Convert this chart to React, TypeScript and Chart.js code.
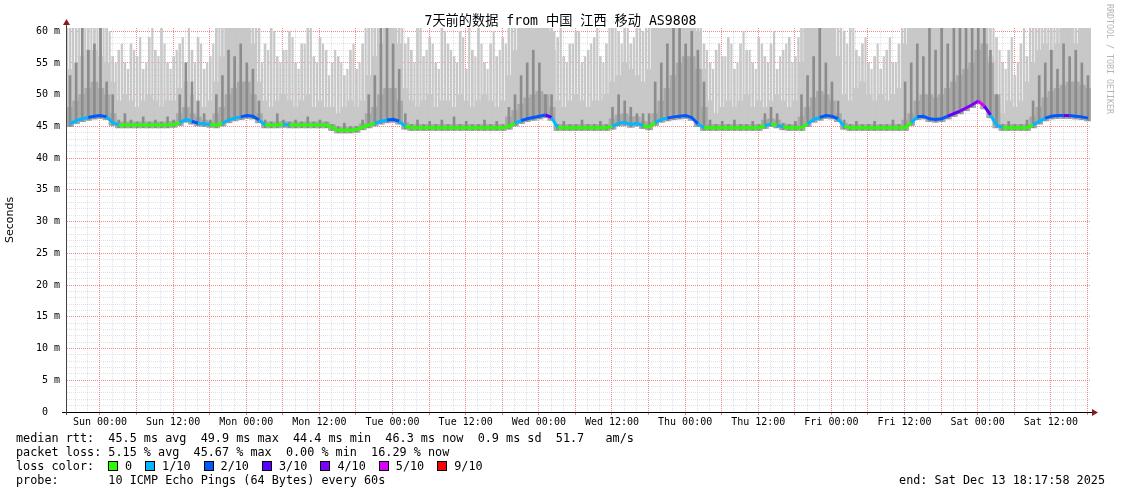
import React, { useEffect, useRef } from 'react';
import { Chart, registerables } from 'chart.js';

Chart.register(...registerables);

const MONO = "'DejaVu Sans Mono', 'Noto Sans CJK SC', monospace";

const TITLE = '7天前的数据 from 中国 江西 移动 AS9808';
const Y_LABEL = 'Seconds';
const WATERMARK = 'RRDTOOL / TOBI OETIKER';

// hours shown, counted from the left edge of the graph
const RANGE_HOURS = 168;
// position (hours from range start) of the first labelled tick "Sun 00:00"
const FIRST_LABEL_HOUR = 5.41;
const xTickLabels = [
  'Sun 00:00', 'Sun 12:00', 'Mon 00:00', 'Mon 12:00', 'Tue 00:00', 'Tue 12:00', 'Wed 00:00',
  'Wed 12:00', 'Thu 00:00', 'Thu 12:00', 'Fri 00:00', 'Fri 12:00', 'Sat 00:00', 'Sat 12:00',
];
const yLabelStep = 5;
const yMax = 60.5;

// hourly median rtt (ms)
const median = [
  45.4, 45.9, 46.2, 46.4, 46.6, 46.7, 46.5, 45.6, 45.2, 45.2, 45.2, 45.2,
  45.2, 45.2, 45.2, 45.2, 45.2, 45.3, 45.6, 46.1, 45.8, 45.5, 45.4, 45.3,
  45.2, 45.5, 46.0, 46.3, 46.5, 46.7, 46.6, 46.0, 45.2, 45.2, 45.2, 45.3,
  45.2, 45.2, 45.2, 45.2, 45.2, 45.2, 45.2, 44.8, 44.4, 44.4, 44.4, 44.5,
  44.9, 45.2, 45.5, 45.8, 46.0, 46.1, 45.8, 45.0, 44.8, 44.8, 44.8, 44.8,
  44.8, 44.8, 44.8, 44.8, 44.8, 44.8, 44.8, 44.8, 44.8, 44.8, 44.8, 44.8,
  45.0, 45.5, 45.9, 46.2, 46.4, 46.6, 46.8, 46.4, 44.8, 44.8, 44.8, 44.8,
  44.8, 44.8, 44.8, 44.8, 44.8, 45.0, 45.5, 45.6, 45.3, 45.5, 45.1, 44.9,
  45.6, 46.1, 46.3, 46.5, 46.6, 46.7, 46.4, 45.4, 44.8, 44.8, 44.8, 44.8,
  44.8, 44.8, 44.8, 44.8, 44.8, 44.8, 45.1, 45.4, 45.2, 44.9, 44.8, 44.8,
  44.8, 45.4, 46.1, 46.4, 46.7, 46.6, 46.2, 45.0, 44.8, 44.8, 44.8, 44.8,
  44.8, 44.8, 44.8, 44.8, 44.8, 44.8, 45.6, 46.5, 46.6, 46.2, 46.1, 46.2,
  46.6, 47.0, 47.4, 47.9, 48.4, 49.0, 48.2, 46.8, 45.2, 44.8, 44.8, 44.8,
  44.8, 44.8, 45.2, 45.8, 46.3, 46.6, 46.7, 46.7, 46.7, 46.6, 46.5, 46.3,
];

// hourly lost pings (out of 10)
const loss = [
  1, 1, 1, 2, 2, 2, 1, 1, 0, 0, 0, 0,
  0, 0, 0, 0, 0, 0, 1, 1, 2, 1, 1, 0,
  0, 1, 1, 1, 2, 2, 2, 1, 0, 0, 0, 1,
  0, 0, 0, 0, 0, 0, 0, 0, 0, 0, 0, 0,
  0, 0, 1, 1, 2, 2, 1, 0, 0, 0, 0, 0,
  0, 0, 0, 0, 0, 0, 0, 0, 0, 0, 0, 0,
  0, 1, 2, 2, 2, 2, 3, 1, 0, 0, 0, 0,
  0, 0, 0, 0, 0, 1, 1, 1, 1, 1, 0, 0,
  1, 1, 2, 2, 2, 2, 2, 1, 0, 0, 0, 0,
  0, 0, 0, 0, 0, 0, 1, 0, 1, 0, 0, 0,
  0, 1, 1, 2, 2, 2, 1, 0, 0, 0, 0, 0,
  0, 0, 0, 0, 0, 0, 1, 2, 2, 2, 2, 2,
  3, 3, 4, 4, 4, 5, 3, 1, 1, 0, 0, 0,
  0, 0, 1, 1, 2, 2, 2, 3, 2, 2, 2, 2,
];

// top of the dense light smoke (ms)
const smokeBody = [
  54, 55, 56, 57, 57, 56, 55, 52, 49, 50, 49, 48,
  49, 50, 49, 48, 49, 49, 51, 52, 50, 49, 48, 49,
  52, 56, 61, 61, 61, 61, 58, 52, 49, 48, 49, 50,
  49, 48, 49, 50, 48, 49, 48, 48, 47, 48, 49, 48,
  49, 53, 56, 58, 61, 61, 58, 51, 49, 48, 49, 50,
  48, 49, 49, 48, 50, 49, 48, 49, 50, 49, 48, 49,
  53, 57, 61, 61, 61, 61, 61, 60, 49, 48, 49, 50,
  49, 48, 49, 49, 50, 52, 53, 55, 54, 53, 52, 54,
  61, 61, 61, 61, 61, 61, 61, 60, 54, 49, 47, 48,
  49, 48, 49, 50, 48, 49, 48, 49, 50, 49, 48, 49,
  55, 61, 61, 61, 61, 61, 56, 50, 49, 51, 52, 50,
  49, 50, 49, 50, 51, 58, 61, 61, 61, 61, 61, 61,
  61, 61, 61, 61, 61, 61, 61, 56, 48, 47, 49, 48,
  49, 52, 55, 57, 58, 57, 58, 61, 61, 58, 61, 61,
];

// highest ping per hour, mid-hour (light smoke spikes, ms)
const smokeMax = [
  61, 61, 61, 61, 61, 61, 61, 56, 57, 55, 58, 56,
  54, 59, 57, 61, 55, 56, 58, 55, 57, 59, 54, 56,
  61, 61, 61, 61, 61, 61, 61, 61, 58, 61, 56, 57,
  60, 55, 58, 61, 56, 59, 57, 55, 56, 53, 57, 54,
  58, 61, 61, 61, 61, 61, 61, 58, 57, 61, 56, 59,
  55, 61, 58, 56, 60, 54, 57, 61, 55, 58, 56, 59,
  61, 61, 61, 61, 61, 61, 61, 61, 59, 56, 58, 60,
  55, 57, 59, 56, 58, 61, 60, 61, 58, 61, 60, 61,
  61, 61, 61, 61, 61, 61, 61, 61, 58, 55, 57, 56,
  59, 54, 58, 57, 55, 59, 56, 58, 54, 57, 59, 56,
  61, 61, 61, 61, 61, 61, 61, 60, 61, 57, 58, 55,
  56, 54, 57, 55, 58, 61, 61, 61, 61, 61, 61, 61,
  61, 61, 61, 61, 61, 61, 61, 61, 59, 55, 57, 53,
  58, 56, 61, 61, 61, 61, 61, 61, 61, 61, 61, 61,
];

// highest ping at each hour boundary (light smoke spikes, ms)
const smokeMaxEdge = [
  61, 61, 61, 61, 61, 61, 61, 60, 55, 58, 54, 57,
  59, 55, 61, 56, 58, 54, 57, 59, 61, 55, 58, 55,
  58, 61, 61, 61, 61, 61, 61, 61, 55, 57, 60, 55,
  57, 59, 54, 58, 61, 55, 58, 53, 57, 55, 54, 58,
  55, 61, 61, 61, 61, 61, 61, 61, 59, 55, 61, 57,
  58, 54, 60, 57, 55, 59, 61, 56, 58, 54, 60, 57,
  58, 61, 61, 61, 61, 61, 61, 61, 57, 61, 55, 58,
  60, 56, 58, 61, 55, 61, 61, 58, 61, 59, 61, 61,
  61, 61, 61, 61, 61, 61, 61, 61, 61, 57, 54, 58,
  56, 58, 55, 60, 57, 54, 58, 55, 60, 56, 58, 55,
  59, 61, 61, 61, 61, 61, 61, 61, 58, 61, 56, 59,
  54, 58, 56, 59, 55, 61, 61, 61, 61, 61, 61, 61,
  61, 61, 61, 61, 61, 61, 61, 61, 61, 57, 54, 59,
  55, 61, 61, 61, 61, 61, 61, 61, 61, 61, 61, 61,
];

// top of the darker smoke body (ms)
const smokeDark = [
  48, 49, 50, 51, 52, 51, 50, 47, 45.7, 45.7, 45.7, 45.7,
  45.7, 45.7, 45.7, 45.7, 45.7, 45.8, 47, 48, 47, 46.5, 46, 45.8,
  47, 48, 50, 51, 52, 52, 50, 47, 45.7, 45.7, 45.7, 45.8,
  45.7, 45.7, 45.7, 45.7, 45.7, 45.7, 45.7, 45.3, 44.9, 44.9, 44.9, 45,
  45.4, 47, 48, 50, 51, 51, 49, 45.6, 45.3, 45.3, 45.3, 45.3,
  45.3, 45.3, 45.3, 45.3, 45.3, 45.3, 45.3, 45.3, 45.3, 45.3, 45.3, 45.3,
  46.5, 47.5, 48.5, 49.5, 50, 50.5, 50, 48, 45.3, 45.3, 45.3, 45.3,
  45.3, 45.3, 45.3, 45.3, 45.3, 46.2, 46.8, 47, 46.5, 46.5, 45.8, 45.6,
  47, 49, 51, 53, 55, 56, 56, 54, 48, 45.3, 45.3, 45.3,
  45.3, 45.3, 45.3, 45.3, 45.3, 45.3, 46, 46.2, 46, 45.4, 45.3, 45.3,
  46.5, 48, 49.5, 50.5, 50, 49, 47, 45.5, 45.3, 45.3, 45.3, 45.3,
  45.3, 45.3, 45.3, 45.3, 45.3, 46, 47, 49, 50, 50, 49.5, 50,
  51, 52, 53, 54, 55, 57, 58, 55, 50, 45.3, 45.3, 45.3,
  45.3, 45.3, 46.5, 48, 49.5, 50.5, 51, 51.5, 52, 52, 51.5, 51,
];

// darker smoke spikes (ms)
const smokeDarkMax = [
  53, 55, 61, 57, 58, 61, 52, 50, 46, 47, 46, 45.7,
  46.5, 45.7, 46, 45.7, 46.5, 46, 50, 55, 52, 49, 47, 46,
  50, 53, 57, 56, 58, 55, 54, 49, 46, 45.7, 47, 46,
  45.7, 46, 45.7, 46.5, 45.7, 46, 45.7, 45.3, 45, 45.5, 45, 45,
  46, 50, 53, 61, 61, 58, 54, 47, 45.3, 46, 45.3, 45.8,
  45.3, 46, 45.3, 46.5, 45.3, 45.8, 45.3, 45.3, 46, 45.3, 45.8, 45.3,
  48, 50, 53, 55, 57, 55, 50, 50, 45.3, 45.8, 45.3, 45.3,
  46, 45.3, 45.3, 45.8, 45.3, 48, 50, 49, 48, 47, 47, 47,
  52, 55, 58, 61, 61, 58, 60, 57, 52, 46, 45.3, 45.8,
  45.3, 46, 45.3, 45.3, 45.8, 45.3, 47, 48, 47, 45.5, 45.3, 45.8,
  50, 53, 56, 61, 55, 52, 49, 46, 45.3, 45.8, 45.3, 45.3,
  45.8, 45.3, 45.3, 46, 45.3, 52, 55, 58, 56, 61, 57, 61,
  58, 61, 61, 61, 61, 61, 61, 57, 50, 45.3, 45.8, 45.3,
  45.3, 46, 49, 53, 55, 57, 54, 58, 56, 57, 55, 53,
];

const lossLegend: [string, string][] = [
  ['0', '#26ff00'],
  ['1/10', '#00b8ff'],
  ['2/10', '#0059ff'],
  ['3/10', '#5e00ff'],
  ['4/10', '#7e00ff'],
  ['5/10', '#dd00ff'],
  ['9/10', '#ff0000'],
];
const lossColorByCount: Record<number, string> = {
  0: '#26ff00', 1: '#00b8ff', 2: '#0059ff', 3: '#5e00ff', 4: '#7e00ff', 5: '#dd00ff', 9: '#ff0000',
};

const statsLines = [
  'median rtt:  45.5 ms avg  49.9 ms max  44.4 ms min  46.3 ms now  0.9 ms sd  51.7   am/s',
  'packet loss: 5.15 % avg  45.67 % max  0.00 % min  16.29 % now',
];
const lossLabel = 'loss color:';
const probeLine = 'probe:       10 ICMP Echo Pings (64 Bytes) every 60s';
const endLine = 'end: Sat Dec 13 18:17:58 2025';

const MAJOR_GRID = 'rgba(235, 90, 90, 0.7)';
const MINOR_GRID = 'rgba(150, 150, 150, 0.28)';

const near = (a: number, b: number) => Math.abs(a - b) < 1e-3;

function xLabelFor(v: number): string {
  const k = (v - FIRST_LABEL_HOUR) / 12;
  const r = Math.round(k);
  if (near(k, r) && r >= 0 && r < xTickLabels.length) return xTickLabels[r];
  return '';
}
function xIsMajor(v: number): boolean {
  const k = (v - FIRST_LABEL_HOUR) / 6;
  return near(k, Math.round(k));
}

const axisPlugin = {
  id: 'rrdAxes',
  afterDraw(chart: any) {
    const { ctx, chartArea } = chart;
    const { left, right, top, bottom } = chartArea;
    ctx.save();
    ctx.strokeStyle = '#000';
    ctx.lineWidth = 1;
    ctx.beginPath();
    ctx.moveTo(left - 5, bottom + 0.5);
    ctx.lineTo(right + 2, bottom + 0.5);
    ctx.stroke();
    ctx.strokeStyle = '#444';
    ctx.beginPath();
    ctx.moveTo(left - 0.5, bottom + 3);
    ctx.lineTo(left - 0.5, top - 4);
    ctx.stroke();
    ctx.fillStyle = '#8b1a1a';
    ctx.beginPath();
    ctx.moveTo(right + 1, bottom - 3);
    ctx.lineTo(right + 7, bottom + 0.5);
    ctx.lineTo(right + 1, bottom + 4);
    ctx.closePath();
    ctx.fill();
    ctx.beginPath();
    ctx.moveTo(left - 4, top - 3);
    ctx.lineTo(left - 0.5, top - 9);
    ctx.lineTo(left + 3, top - 3);
    ctx.closePath();
    ctx.fill();
    ctx.restore();
  },
};

export default function App() {
  const ref = useRef<HTMLCanvasElement>(null);

  useEffect(() => {
    const pts = (vals: number[], lowOffset: number, shift: number) =>
      vals.map((v, i) => ({ x: i + shift, y: [median[i] - lowOffset, v] }));

    const chart = new Chart(ref.current as HTMLCanvasElement, {
      type: 'bar',
      data: {
        datasets: [
          {
            type: 'line',
            data: median.map((m, i) => ({ x: i + 0.5, y: m })),
            borderWidth: 3,
            pointRadius: 0,
            tension: 0,
            borderColor: '#26ff00',
            segment: {
              borderColor: (c: any) => lossColorByCount[loss[c.p0DataIndex]] || '#26ff00',
            },
            order: 0,
          } as any,
          {
            data: pts(smokeDarkMax, 0.4, 0.5),
            backgroundColor: '#8c8c8c',
            barThickness: 2,
            grouped: false,
            order: 1,
          } as any,
          {
            data: pts(smokeDark, 0.45, 0.5),
            backgroundColor: '#a9a9a9',
            barThickness: 7,
            grouped: false,
            order: 2,
          } as any,
          {
            data: pts(smokeMax, 0.4, 0.5),
            backgroundColor: '#c8c8c8',
            barThickness: 2,
            grouped: false,
            order: 3,
          } as any,
          {
            data: pts(smokeMaxEdge, 0.4, 0),
            backgroundColor: '#c8c8c8',
            barThickness: 1.5,
            grouped: false,
            order: 3,
          } as any,
          {
            data: pts(smokeBody, 0.4, 0.5),
            backgroundColor: '#c8c8c8',
            barThickness: 7,
            grouped: false,
            order: 4,
          } as any,
        ],
      },
      options: {
        animation: false,
        responsive: false,
        devicePixelRatio: 1,
        events: [],
        layout: { padding: { top: 28, right: 30, bottom: 0, left: 0 } },
        plugins: {
          legend: { display: false },
          tooltip: { enabled: false },
          title: { display: false },
        },
        scales: {
          x: {
            type: 'linear',
            min: 0,
            max: RANGE_HOURS,
            offset: false,
            bounds: 'data',
            z: 1,
            grid: {
              offset: false,
              lineWidth: 1,
              color: (c: any) => (xIsMajor(c.tick.value) ? MAJOR_GRID : MINOR_GRID),
              drawTicks: true,
              tickLength: 3,
              tickColor: (c: any) => (xIsMajor(c.tick.value) ? MAJOR_GRID : 'rgba(0,0,0,0)'),
            },
            border: { display: false, dash: [1, 1] },
            ticks: {
              autoSkip: false,
              maxRotation: 0,
              minRotation: 0,
              padding: 1,
              color: '#000',
              font: { family: MONO, size: 10 },
              callback: (v: any) => xLabelFor(Number(v)),
            },
            afterBuildTicks: (s: any) => {
              const t: { value: number }[] = [];
              for (let k = -2; FIRST_LABEL_HOUR + 2 * k < RANGE_HOURS; k++) {
                t.push({ value: FIRST_LABEL_HOUR + 2 * k });
              }
              s.ticks = t;
            },
            afterFit: (s: any) => {
              s.height = 82;
            },
          },
          y: {
            type: 'linear',
            min: 0,
            max: yMax,
            z: 1,
            grid: {
              lineWidth: 1,
              drawTicks: false,
              color: (c: any) => (c.tick.value % yLabelStep === 0 ? MAJOR_GRID : MINOR_GRID),
            },
            border: { display: false, dash: [1, 1] },
            ticks: {
              autoSkip: false,
              padding: 7,
              color: '#000',
              font: { family: MONO, size: 10 },
              callback: (v: any) => {
                const n = Number(v);
                if (n % yLabelStep !== 0) return '';
                return n === 0 ? '0  ' : `${n} m`;
              },
            },
            title: {
              display: true,
              text: Y_LABEL,
              color: '#000',
              font: { family: "'DejaVu Sans', sans-serif", size: 11 },
              padding: { top: 4, bottom: 0 },
            },
            afterBuildTicks: (s: any) => {
              const t: { value: number }[] = [];
              for (let v = 0; v <= 60; v += 1) t.push({ value: v });
              s.ticks = t;
            },
            afterFit: (s: any) => {
              s.width = 67;
            },
          },
        },
      } as any,
      plugins: [axisPlugin],
    });
    return () => chart.destroy();
  }, []);

  const textStyle: React.CSSProperties = {
    position: 'absolute',
    left: 16,
    fontFamily: MONO,
    fontSize: '11.8px',
    lineHeight: '14px',
    whiteSpace: 'pre',
    color: '#000',
  };

  return (
    <div
      style={{
        position: 'absolute',
        left: 0,
        top: 0,
        width: 1121,
        height: 494,
        background: '#fff',
        overflow: 'hidden',
      }}
    >
      <canvas ref={ref} width={1121} height={494} style={{ position: 'absolute', left: 0, top: 0 }} />
      <div
        style={{
          position: 'absolute',
          left: 0,
          top: 13,
          width: 1121,
          textAlign: 'center',
          fontFamily: MONO,
          fontSize: '13.2px',
          lineHeight: '16px',
          whiteSpace: 'pre',
          color: '#000',
        }}
      >
        {TITLE}
      </div>
      <div
        style={{
          position: 'absolute',
          left: 1105,
          top: 4,
          writingMode: 'vertical-rl',
          fontFamily: MONO,
          fontSize: '8.3px',
          lineHeight: '10px',
          color: '#b4b4b4',
          whiteSpace: 'pre',
        }}
      >
        {WATERMARK}
      </div>
      <div style={{ ...textStyle, top: 431 }}>{statsLines[0]}</div>
      <div style={{ ...textStyle, top: 445 }}>{statsLines[1]}</div>
      <div style={{ ...textStyle, top: 459 }}>{lossLabel}</div>
      <div
        style={{
          position: 'absolute',
          left: 108,
          top: 459,
          display: 'flex',
          alignItems: 'center',
          height: 14,
          fontFamily: MONO,
          fontSize: '11.8px',
          lineHeight: '14px',
          whiteSpace: 'pre',
        }}
      >
        {lossLegend.map(([label, color]) => (
          <span key={label} style={{ display: 'flex', alignItems: 'center', marginRight: 13 }}>
            <span
              style={{
                display: 'inline-block',
                width: 10,
                height: 10,
                boxSizing: 'border-box',
                border: '1px solid #000',
                background: color,
                marginRight: 7,
              }}
            />
            <span>{label}</span>
          </span>
        ))}
      </div>
      <div style={{ ...textStyle, top: 473 }}>{probeLine}</div>
      <div style={{ ...textStyle, left: undefined, right: 16, top: 473 }}>{endLine}</div>
    </div>
  );
}
